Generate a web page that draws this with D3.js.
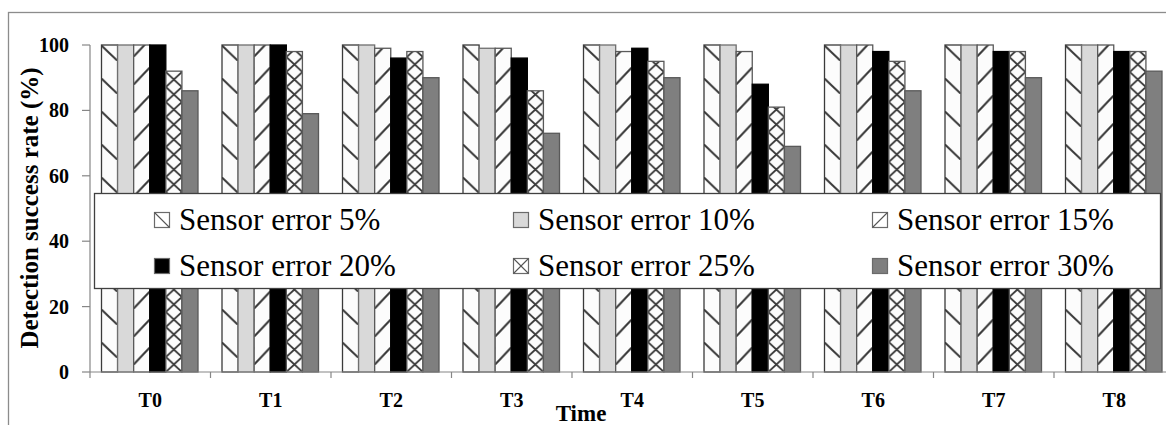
<!DOCTYPE html>
<html>
<head>
<meta charset="utf-8">
<script src="https://cdn.jsdelivr.net/npm/d3@7"></script>
<style>
  html, body { margin: 0; padding: 0; background: #fff; }
  svg { display: block; }
  svg text { font-family: "Liberation Serif", "Times New Roman", Times, serif; }
</style>
</head>
<body>
<svg id="chart" width="1166" height="425"></svg>
<script>
// ---- data ----
const categories = ["T0", "T1", "T2", "T3", "T4", "T5", "T6", "T7", "T8"];
const seriesNames = ["Sensor error 5%", "Sensor error 10%", "Sensor error 15%",
                     "Sensor error 20%", "Sensor error 25%", "Sensor error 30%"];
const err5  = [100, 100, 100, 100, 100, 100, 100, 100, 100];
const err10 = [100, 100, 100,  99, 100, 100, 100, 100, 100];
const err15 = [100, 100,  99,  99,  98,  98, 100, 100, 100];
const err20 = [100, 100,  96,  96,  99,  88,  98,  98,  98];
const err25 = [ 92,  98,  98,  86,  95,  81,  95,  98,  98];
const err30 = [ 86,  79,  90,  73,  90,  69,  86,  90,  92];
const yTicks = [0, 20, 40, 60, 80, 100];
const yTitle = "Detection success rate (%)";
const xTitle = "Time";

const seriesValues = [err5, err10, err15, err20, err25, err30];
const kinds = ["down", "solid", "up", "solid", "cross", "solid"];
const solids = [null, "#d9d9d9", null, "#000000", null, "#7f7f7f"];
const strokes = ["#3a3a3a", "#6f6f6f", "#595959", "#000000", "#595959", "#595959"];
const FONT = '"Liberation Serif", "Times New Roman", Times, serif';

const svg = d3.select("#chart");
const defs = svg.append("defs");

svg.append("rect").attr("x", 8.5).attr("y", 12.5).attr("width", 1300).attr("height", 600)
  .attr("fill", "none").attr("stroke", "#8c8c8c").attr("stroke-width", 1.3);

const x0 = d3.scaleBand().domain(categories).range([90, 90 + 120.5 * categories.length]);
const x1 = d3.scaleBand().domain(d3.range(seriesNames.length)).range([11.5, 108]);
const y = d3.scaleLinear().domain([0, 100]).range([372, 45]);

const hatchColor = "#3c3c3c";
function buildPattern(id, kind, px, w) {
  const base = y(0);
  if (kind === "down") {
    const h = 33;
    const p = defs.append("pattern").attr("id", id).attr("patternUnits", "userSpaceOnUse")
      .attr("x", px).attr("y", base).attr("width", w).attr("height", h);
    p.append("rect").attr("width", w).attr("height", h).attr("fill", "#fcfcfc");
    p.append("line").attr("x1", 0.5).attr("y1", 4).attr("x2", w - 1).attr("y2", 18)
      .attr("stroke", hatchColor).attr("stroke-width", 2).attr("stroke-linecap", "round");
  } else if (kind === "up") {
    const h = 28;
    const p = defs.append("pattern").attr("id", id).attr("patternUnits", "userSpaceOnUse")
      .attr("x", px).attr("y", base).attr("width", w).attr("height", h);
    p.append("rect").attr("width", w).attr("height", h).attr("fill", "#fcfcfc");
    p.append("line").attr("x1", 0.5).attr("y1", 20).attr("x2", w - 0.5).attr("y2", 4)
      .attr("stroke", hatchColor).attr("stroke-width", 2).attr("stroke-linecap", "round");
  } else if (kind === "cross") {
    const h = 30;
    const p = defs.append("pattern").attr("id", id).attr("patternUnits", "userSpaceOnUse")
      .attr("x", px).attr("y", base).attr("width", w).attr("height", h);
    p.append("rect").attr("width", w).attr("height", h).attr("fill", "#fcfcfc");
    p.append("path").attr("d", `M0,0 L${w},${h / 2} L0,${h} M${w},0 L0,${h / 2} L${w},${h}`)
      .attr("fill", "none").attr("stroke", hatchColor).attr("stroke-width", 1.8);
  }
}

const barData = [];
categories.forEach((c, ci) => {
  seriesValues.forEach((vals, si) => {
    barData.push({ c, ci, si, v: vals[ci] });
  });
});

const bw = x1.bandwidth();
barData.forEach(d => {
  d.x = x0(d.c) + x1(d.si);
  if (kinds[d.si] !== "solid") {
    d.pid = `pat-${d.si}-${d.ci}`;
    buildPattern(d.pid, kinds[d.si], d.x, bw);
  }
});

svg.append("g").selectAll("rect").data(barData).join("rect")
  .attr("x", d => d.x)
  .attr("y", d => y(d.v))
  .attr("width", bw)
  .attr("height", d => y(0) - y(d.v))
  .attr("fill", d => d.pid ? `url(#${d.pid})` : solids[d.si])
  .attr("stroke", d => strokes[d.si])
  .attr("stroke-width", 1.3);

const yAxis = svg.append("g");
yAxis.append("line").attr("x1", 90).attr("x2", 90).attr("y1", y(100)).attr("y2", y(0))
  .attr("stroke", "#868686").attr("stroke-width", 1.2);
yAxis.selectAll("line.tick").data(yTicks).join("line").attr("class", "tick")
  .attr("x1", 82).attr("x2", 90).attr("y1", d => y(d)).attr("y2", d => y(d))
  .attr("stroke", "#868686").attr("stroke-width", 1.2);
yAxis.selectAll("text").data(yTicks).join("text")
  .attr("x", 69).attr("y", d => y(d) + 7)
  .attr("text-anchor", "end")
  .style("font-family", FONT).style("font-weight", "bold").style("font-size", "20px")
  .text(d => d);

const xAxis = svg.append("g");
xAxis.append("line").attr("x1", 90).attr("x2", 1166).attr("y1", y(0)).attr("y2", y(0))
  .attr("stroke", "#868686").attr("stroke-width", 1.2);
const boundaries = categories.map(c => x0(c)).concat([x0(categories[categories.length - 1]) + x0.bandwidth()]);
xAxis.selectAll("line.tick").data(boundaries).join("line").attr("class", "tick")
  .attr("x1", d => d).attr("x2", d => d).attr("y1", y(0)).attr("y2", y(0) + 6)
  .attr("stroke", "#868686").attr("stroke-width", 1.2);
xAxis.selectAll("text").data(categories).join("text")
  .attr("x", d => x0(d) + x0.bandwidth() / 2).attr("y", 407)
  .attr("text-anchor", "middle")
  .style("font-family", FONT).style("font-weight", "bold").style("font-size", "20px")
  .text(d => d);

svg.append("text").attr("x", 581).attr("y", 421).attr("text-anchor", "middle")
  .style("font-family", FONT).style("font-weight", "bold").style("font-size", "23px").text(xTitle);
svg.append("text").attr("transform", "translate(38,208) rotate(-90)")
  .attr("text-anchor", "middle")
  .style("font-family", FONT).style("font-weight", "bold").style("font-size", "25px").text(yTitle);

const lg = svg.append("g");
lg.append("rect").attr("x", 94.5).attr("y", 193.5).attr("width", 1066).attr("height", 95)
  .attr("fill", "#fff").attr("stroke", "#404040").attr("stroke-width", 1.3);
const colX = [154, 513, 872];
const rowY = [230, 276];
seriesNames.forEach((name, i) => {
  const cx = colX[i % 3], by = rowY[Math.floor(i / 3)];
  const sx = cx + 0.5, sy = by - 17.5, s = 15;
  const g = lg.append("g");
  g.append("rect").attr("x", sx).attr("y", sy).attr("width", s).attr("height", s)
    .attr("fill", solids[i] || "#fff").attr("stroke", "#6a6a6a").attr("stroke-width", 1.2);
  if (kinds[i] === "down" || kinds[i] === "cross") {
    g.append("line").attr("x1", sx).attr("y1", sy).attr("x2", sx + s).attr("y2", sy + s)
      .attr("stroke", "#555").attr("stroke-width", 1.1);
  }
  if (kinds[i] === "up" || kinds[i] === "cross") {
    g.append("line").attr("x1", sx).attr("y1", sy + s).attr("x2", sx + s).attr("y2", sy)
      .attr("stroke", "#555").attr("stroke-width", 1.1);
  }
  g.append("text").attr("x", cx + 25).attr("y", by)
    .style("font-family", FONT).style("font-size", "31px").text(name);
});
</script>
</body>
</html>
